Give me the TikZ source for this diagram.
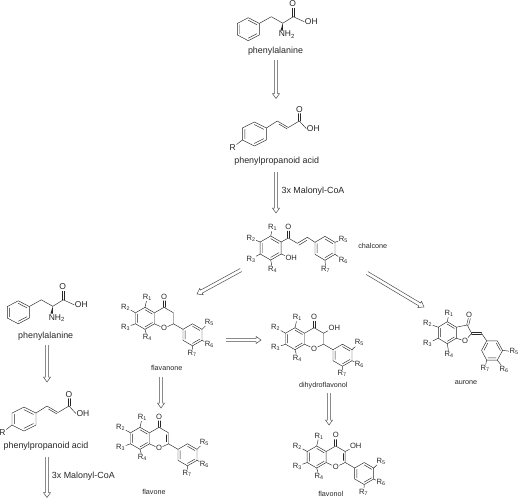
\documentclass[tikz,border=0pt]{standalone}
\usepackage{fontspec}
\setmainfont{Liberation Sans}
\usetikzlibrary{calc}

\tikzstyle{bond} = [line width=0.45pt, line cap=round, line join=round, black!85]
\tikzstyle{atom} = [inner sep=0.5pt, font=\fontsize{7.6}{9}\selectfont, text=black!85]
\tikzstyle{bigatom} = [inner sep=0.5pt, font=\fontsize{8.5}{10}\selectfont, text=black!85]
\tikzstyle{title} = [inner sep=0pt, font=\fontsize{8.9}{10}\selectfont, text=black!85]
\tikzstyle{small} = [inner sep=0pt, font=\fontsize{7.2}{9}\selectfont, text=black!85]
\tikzstyle{conv} = [line width=0.5pt, line join=miter, black!70]

\newcommand{\Rsub}[1]{R\textsubscript{#1}}

% hollow double-line arrow: start, tip
\newcommand{\convarrow}[2]{
    \coordinate (hb) at ($(#2)!5pt!(#1)$);
    \draw[conv] ($(#1)!1.7pt!90:(#2)$) -- ($(hb)!1.7pt!90:(#2)$) -- ($(hb)!3.6pt!90:(#2)$) -- (#2)
        -- ($(hb)!3.6pt!-90:(#2)$) -- ($(hb)!1.7pt!-90:(#2)$) -- ($(#1)!1.7pt!-90:(#2)$);
}

% hexagon with three inner bonds: centre, half width, half height
\newcommand{\hexring}[3]{
\begin{scope}[shift={#1}]
    \draw[bond] (0,-#3) -- (#2,-0.5*#3) -- (#2,0.5*#3) -- (0,#3) -- (-#2,0.5*#3) -- (-#2,-0.5*#3) -- cycle;
    \draw[bond,scale=0.78] (-#2,0.5*#3) -- (-#2,-0.5*#3) (0,-#3) -- (#2,-0.5*#3) (#2,0.5*#3) -- (0,#3);
\end{scope}
}

% phenylalanine: name, ring centre
\newcommand{\phemol}[2]{
\begin{scope}[shift={#2}]
    \hexring{(0,0)}{11}{11.5}
    \node[bigatom] (#1o) at (44.4,-25.5) {O};
    \node[bigatom] (#1oh) at (63,-7.5) {OH};
    \node[bigatom] (#1nh) at (38.5,5.5) {NH\textsubscript{2}};
    \draw[bond] (11,-5.8) -- (23,-12.5) -- (34.5,-6) -- (45,-12.5) -- (#1oh.west);
    \draw[bond] (44,-12.5) -- (44,-21) (46,-12.5) -- (46,-21);
    \fill[black!85] (34.5,-6) -- (32.2,1.2) -- (34.6,1.4) -- cycle;
\end{scope}
}

% phenylpropanoid acid: name, ring centre
\newcommand{\ppamol}[2]{
\begin{scope}[shift={#2}]
    \hexring{(0,0)}{12}{12}
    \node[bigatom] (#1r) at (-21.5,13.5) {R};
    \node[bigatom] (#1o) at (45,-24.5) {O};
    \node[bigatom] (#1oh) at (59,-5.5) {OH};
    \draw[bond] (-12,6) -- (#1r);
    \draw[bond] (12,-6) -- (23,-13) -- (34,-6.5) -- (45,-13) -- (#1oh.west);
    \draw[bond] (24.5,-10) -- (33,-5) ;
    \draw[bond] (44,-13) -- (44,-20.5) (46,-13) -- (46,-20.5);
\end{scope}
}

% flavonoid skeleton: name, centre of ring A
\newcommand{\flavskel}[2]{
\begin{scope}[shift={#2}]
    \hexring{(0,0)}{9.5}{11}
    \hexring{(47.5,16.5)}{9.5}{11}
    \coordinate (#1cc) at (28.5,-5.5);
    \coordinate (#1cb) at (28.5,5.5);
    \node[atom] (#1ox) at (19,-21.7) {O};
    \node[atom] (#1ring) at (19,10) {O};
    \node[atom] (#1r1) at (2.3,-21) {\Rsub{1}};
    \node[atom] (#1r2) at (-19.3,-11) {\Rsub{2}};
    \node[atom] (#1r3) at (-19.3,9) {\Rsub{3}};
    \node[atom] (#1r4) at (2.3,19.3) {\Rsub{4}};
    \node[atom] (#1r5) at (64.3,4) {\Rsub{5}};
    \node[atom] (#1r6) at (64.3,25.7) {\Rsub{6}};
    \node[atom] (#1r7) at (47,35) {\Rsub{7}};
    \draw[bond] (9.5,-5.5) -- (19,-11) -- (#1cc) -- (#1cb) -- (#1ring) -- (9.5,5.5);
    \draw[bond] (#1cb) -- (38,11);
    \draw[bond] (18,-11) -- (18,-17.5) (20,-11) -- (20,-17.5);
    \draw[bond] (0,-11) -- (#1r1) (-9.5,-5.5) -- (#1r2) (-9.5,5.5) -- (#1r3) (0,11) -- (#1r4);
    \draw[bond] (57,11) -- (#1r5) (57,22) -- (#1r6) (47.5,27.5) -- (#1r7);
\end{scope}
}

\begin{document}
\begin{tikzpicture}[x=1pt,y=-1pt]
\useasboundingbox (0,0) rectangle (518,498);

%begin top column
\phemol{pheA}{(248.3,29.2)}
\node[title] (phetop) at (275.5,51) {phenylalanine};
\ppamol{ppaA}{(254.3,134)}
\node[title] (ppatop) at (276.7,161) {phenylpropanoid acid};
\node[title] (maltop) at (313,190.7) {3x Malonyl-CoA};
%end top column

%begin chalcone
\begin{scope}[shift={(270.7,248)}]
    \hexring{(0,0)}{10.5}{12}
    \hexring{(54.3,0.3)}{10}{12}
    \node[atom] (chax) at (17.6,-20.7) {O};
    \node[atom] (choh) at (20.5,10.3) {OH};
    \node[atom] (chr1) at (1.8,-20.3) {\Rsub{1}};
    \node[atom] (chr2) at (-19.7,-9.7) {\Rsub{2}};
    \node[atom] (chr3) at (-19.7,11) {\Rsub{3}};
    \node[atom] (chr4) at (1.8,21.3) {\Rsub{4}};
    \node[atom] (chr5) at (72.6,-9) {\Rsub{5}};
    \node[atom] (chr6) at (72.6,12) {\Rsub{6}};
    \node[atom] (chr7) at (55,21.3) {\Rsub{7}};
    \draw[bond] (10.5,-6) -- (17.6,-10) -- (26.6,-4.7) -- (36.6,-10.7) -- (44.3,-5.7);
    \draw[bond] (16.6,-10) -- (16.6,-17) (18.6,-10) -- (18.6,-17);
    \draw[bond] (28,-2.7) -- (36.3,-7.8);
    \draw[bond] (10.5,6) -- (choh) (0,-12) -- (chr1) (-10.5,-6) -- (chr2) (-10.5,6) -- (chr3) (0,12) -- (chr4);
    \draw[bond] (64.3,-5.7) -- (chr5) (64.3,6.3) -- (chr6) (54.3,12.3) -- (chr7);
\end{scope}
\node[small] (chalabel) at (372.7,246) {chalcone};
%end chalcone

%begin flavanone
\flavskel{fan}{(145,318.3)}
\node[small] (fanlabel) at (166.7,367.7) {flavanone};
%end flavanone

%begin dihydroflavonol
\flavskel{dhf}{(295,338.7)}
\node[atom] (dhfoh) at (334.3,327.4) {OH};
\draw[bond] (dhfcc) -- (dhfoh);
\node[small] (dhflabel) at (323.3,385.7) {dihydroflavonol};
%end dihydroflavonol

%begin flavone
\flavskel{fon}{(140,438.3)}
\draw[bond] ([shift={(-2,2)}]foncc) -- ([shift={(-2,-2)}]foncb);
\node[small] (fonlabel) at (154,492.3) {flavone};
%end flavone

%begin flavonol
\flavskel{fol}{(316.7,457)}
\draw[bond] ([shift={(-2,2)}]folcc) -- ([shift={(-2,-2)}]folcb);
\node[atom] (foloh) at (355.7,446) {OH};
\draw[bond] (folcc) -- (foloh);
\node[small] (follabel) at (330.7,494.3) {flavonol};
%end flavonol

%begin aurone
\begin{scope}[shift={(447.3,332.7)}]
    \hexring{(0,0)}{9}{11}
    \node[atom] (aux) at (21.7,-18.3) {O};
    \node[atom] (auring) at (17.7,8.3) {O};
    \node[atom] (aur1) at (1.7,-19.3) {\Rsub{1}};
    \node[atom] (aur2) at (-19.7,-9.3) {\Rsub{2}};
    \node[atom] (aur3) at (-19.7,10.7) {\Rsub{3}};
    \node[atom] (aur4) at (1.7,21.7) {\Rsub{4}};
    \node[atom] (aur5) at (66.7,19) {\Rsub{5}};
    \node[atom] (aur6) at (56.7,36.3) {\Rsub{6}};
    \node[atom] (aur7) at (37.7,35.7) {\Rsub{7}};
    \draw[bond] (9,-5.5) -- (20,-7.7) -- (24.3,0.7) -- (auring) -- (9,5.5);
    \draw[bond] (19.4,-8) -- (21,-14.5) (21.4,-7.6) -- (23,-14);
    \draw[bond] (24.3,-0.1) -- (34.3,-0.1) (24.3,1.7) -- (34.3,1.7);
    \draw[bond] (34.3,0.7) -- (39.3,8);
    \draw[bond] (0,-11) -- (aur1) (-9,-5.5) -- (aur2) (-9,5.5) -- (aur3) (0,11) -- (aur4);
    \begin{scope}[shift={(45,17.7)}]
        \draw[bond] (-5.7,-9.5) -- (5,-9.5) -- (10.3,0) -- (5,9.7) -- (-5.7,9.7) -- (-10.7,0) -- cycle;
        \draw[bond,scale=0.78] (5,-9.5) -- (10.3,0) (5,9.7) -- (-5.7,9.7) (-10.7,0) -- (-5.7,-9.5);
        \draw[bond] (10.3,0) -- (aur5) (5,9.7) -- (aur6) (-5.7,9.7) -- (aur7);
    \end{scope}
\end{scope}
\node[small] (aulabel) at (466,382.7) {aurone};
%end aurone

%begin left column
\phemol{pheB}{(18.3,312.3)}
\node[title] (pheleft) at (45.7,336) {phenylalanine};
\ppamol{ppaB}{(24,419)}
\node[title] (ppaleft) at (46,446) {phenylpropanoid acid};
\node[title] (malleft) at (83.3,476) {3x Malonyl-CoA};
%end left column

%begin arrows
\coordinate (a1start) at (276,60);
\coordinate (a1end) at (276,98.5);
\coordinate (a2start) at (276,172);
\coordinate (a2end) at (276,213);
\coordinate (a3start) at (241,270);
\coordinate (a3end) at (197,294);
\coordinate (a4start) at (367,273);
\coordinate (a4end) at (424,307);
\coordinate (a5start) at (226,340);
\coordinate (a5end) at (261,340);
\coordinate (a6start) at (161,377);
\coordinate (a6end) at (161,408);
\coordinate (a7start) at (329,393);
\coordinate (a7end) at (329,425);
\coordinate (a8start) at (47,345);
\coordinate (a8end) at (47,382);
\coordinate (a9start) at (47,457);
\coordinate (a9end) at (47,497.5);
\convarrow{a1start}{a1end}
\convarrow{a2start}{a2end}
\convarrow{a3start}{a3end}
\convarrow{a4start}{a4end}
\convarrow{a5start}{a5end}
\convarrow{a6start}{a6end}
\convarrow{a7start}{a7end}
\convarrow{a8start}{a8end}
\convarrow{a9start}{a9end}
%end arrows
\end{tikzpicture}
\end{document}
